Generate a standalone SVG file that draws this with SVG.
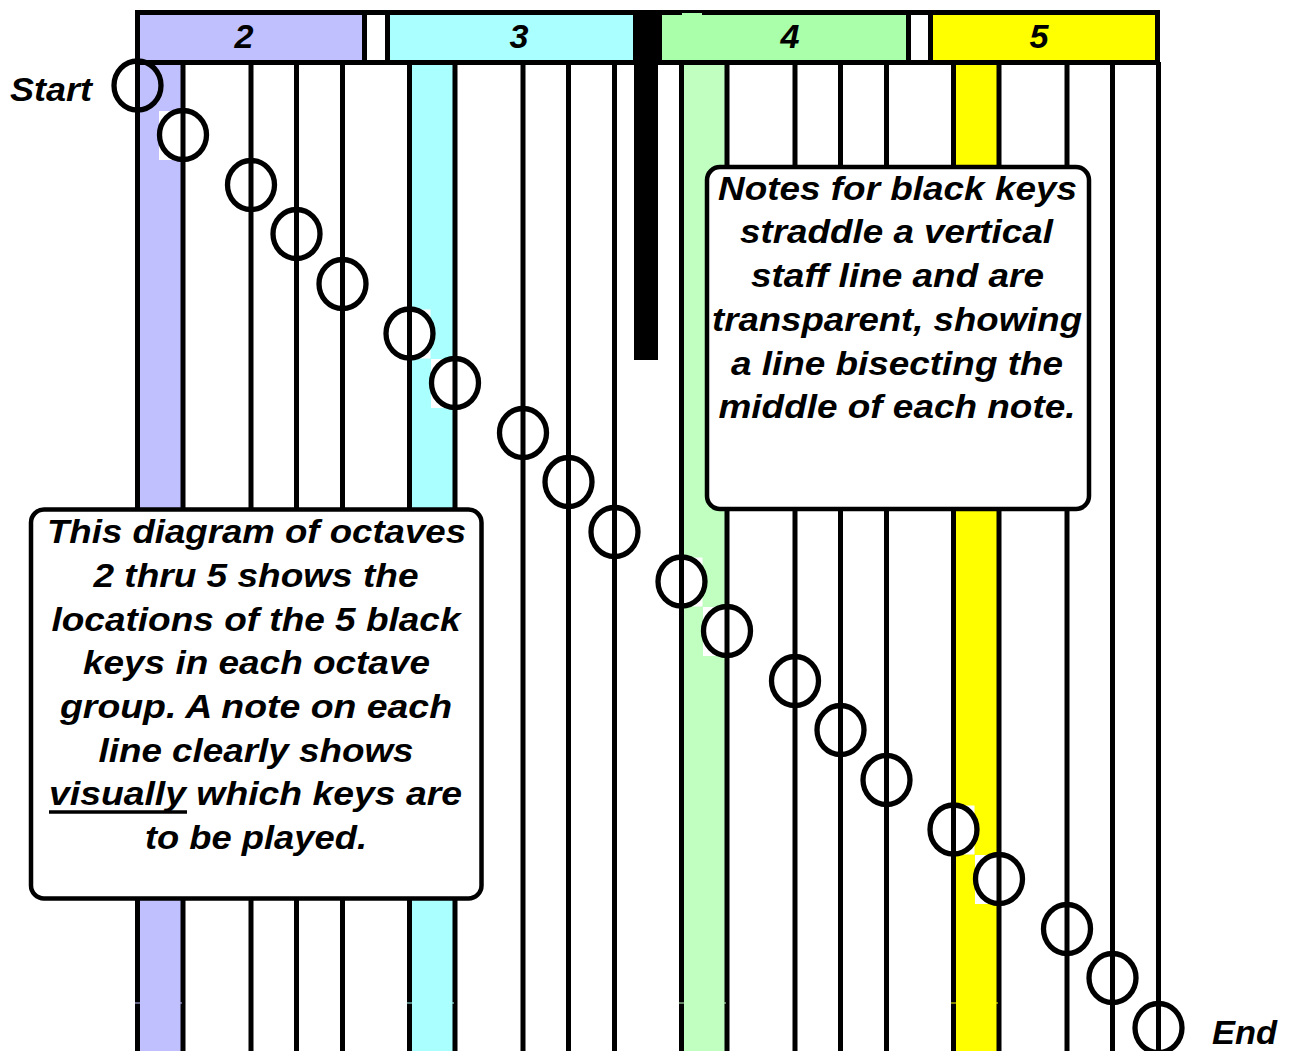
<svg xmlns="http://www.w3.org/2000/svg" width="1289" height="1051" viewBox="0 0 1289 1051">
<style>
.t{font-family:"Liberation Sans",Arial,sans-serif;font-weight:bold;font-style:italic;font-size:33px;fill:#000}
.m{text-anchor:middle}
.sl{stroke:#000;stroke-width:5;fill:none}
.nb{fill:#fff}
.note{fill:none;stroke:#000;stroke-width:5.3}
.box{fill:#fff;stroke:#000;stroke-width:4.5}
</style>
<rect width="1289" height="1051" fill="#fff"/>
<g id="bands">
<rect x="137.5" y="60" width="45.5" height="991" fill="#C0C0FF"/>
<rect x="409.5" y="60" width="45.5" height="991" fill="#AAFFFF"/>
<rect x="681.5" y="60" width="45.5" height="991" fill="#C0FFC0"/>
<rect x="953.5" y="60" width="45.5" height="991" fill="#FFFF00"/>
</g>
<g id="header">
<rect x="135" y="10" width="1025" height="55" fill="#000"/>
<rect x="140" y="15" width="222" height="45" fill="#C0C0FF"/>
<rect x="367" y="15" width="18" height="45" fill="#fff"/>
<rect x="390" y="15" width="243" height="45" fill="#AAFFFF"/>
<rect x="662" y="15" width="244" height="45" fill="#AAFFAA"/>
<rect x="682" y="13" width="20" height="2" fill="#AAFFAA"/>
<rect x="911" y="15" width="17" height="45" fill="#fff"/>
<rect x="933" y="15" width="222" height="45" fill="#FFFF00"/>
<text class="t m" x="244" y="48" textLength="19" lengthAdjust="spacingAndGlyphs">2</text>
<text class="t m" x="519" y="48" textLength="19" lengthAdjust="spacingAndGlyphs">3</text>
<text class="t m" x="790" y="48" textLength="19" lengthAdjust="spacingAndGlyphs">4</text>
<text class="t m" x="1039" y="48" textLength="19" lengthAdjust="spacingAndGlyphs">5</text>
</g>
<g id="note-backgrounds" class="nb">
<rect x="159" y="111" width="45" height="49"/>
<rect x="227" y="161" width="45" height="49"/>
<rect x="272.5" y="210" width="45" height="49"/>
<rect x="318.5" y="260" width="45" height="49"/>
<rect x="385.5" y="309.5" width="45" height="49"/>
<rect x="431" y="359" width="45" height="49"/>
<rect x="499" y="409" width="45" height="49"/>
<rect x="544.5" y="458" width="45" height="49"/>
<rect x="590.5" y="508" width="45" height="49"/>
<rect x="657.5" y="557.5" width="45" height="49"/>
<rect x="703" y="607" width="45" height="49"/>
<rect x="771" y="657" width="45" height="49"/>
<rect x="816.5" y="706" width="45" height="49"/>
<rect x="862.5" y="756" width="45" height="49"/>
<rect x="929.5" y="805.5" width="45" height="49"/>
<rect x="975" y="855" width="45" height="49"/>
<rect x="1043" y="905" width="45" height="49"/>
<rect x="1088.5" y="954" width="45" height="49"/>
<rect x="1134.5" y="1004" width="45" height="49"/>
</g>
<g id="staff-lines" class="sl">
<line x1="137.5" y1="62" x2="137.5" y2="1051"/>
<line x1="183" y1="62" x2="183" y2="1051"/>
<line x1="251" y1="62" x2="251" y2="1051"/>
<line x1="296.5" y1="62" x2="296.5" y2="1051"/>
<line x1="342.5" y1="62" x2="342.5" y2="1051"/>
<line x1="409.5" y1="62" x2="409.5" y2="1051"/>
<line x1="455" y1="62" x2="455" y2="1051"/>
<line x1="523" y1="62" x2="523" y2="1051"/>
<line x1="568.5" y1="62" x2="568.5" y2="1051"/>
<line x1="614.5" y1="62" x2="614.5" y2="1051"/>
<line x1="681.5" y1="62" x2="681.5" y2="1051"/>
<line x1="727" y1="62" x2="727" y2="1051"/>
<line x1="795" y1="62" x2="795" y2="1051"/>
<line x1="840.5" y1="62" x2="840.5" y2="1051"/>
<line x1="886.5" y1="62" x2="886.5" y2="1051"/>
<line x1="953.5" y1="62" x2="953.5" y2="1051"/>
<line x1="999" y1="62" x2="999" y2="1051"/>
<line x1="1067" y1="62" x2="1067" y2="1051"/>
<line x1="1112.5" y1="62" x2="1112.5" y2="1051"/>
<line x1="1158.5" y1="62" x2="1158.5" y2="1051"/>
</g>
<rect id="black-bar" x="634" y="60" width="24" height="300" fill="#000"/>
<g id="seams">
<rect x="135" y="1002.5" width="47" height="1" fill="#C0C0FF"/>
<rect x="407" y="1002.5" width="47" height="1" fill="#AAFFFF"/>
<rect x="679" y="1002.5" width="47" height="1" fill="#C0FFC0"/>
<rect x="951" y="1002.5" width="47" height="1" fill="#FFFF00"/>
</g>
<g id="notes" class="note">
<g id="note-1"><ellipse cx="137.5" cy="85.5" rx="23.5" ry="24.5"/></g>
<g id="note-2"><ellipse cx="183" cy="135" rx="23.5" ry="24.5"/></g>
<g id="note-3"><ellipse cx="251" cy="185" rx="23.5" ry="24.5"/></g>
<g id="note-4"><ellipse cx="296.5" cy="234" rx="23.5" ry="24.5"/></g>
<g id="note-5"><ellipse cx="342.5" cy="284" rx="23.5" ry="24.5"/></g>
<g id="note-6"><ellipse cx="409.5" cy="333.5" rx="23.5" ry="24.5"/></g>
<g id="note-7"><ellipse cx="455" cy="383" rx="23.5" ry="24.5"/></g>
<g id="note-8"><ellipse cx="523" cy="433" rx="23.5" ry="24.5"/></g>
<g id="note-9"><ellipse cx="568.5" cy="482" rx="23.5" ry="24.5"/></g>
<g id="note-10"><ellipse cx="614.5" cy="532" rx="23.5" ry="24.5"/></g>
<g id="note-11"><ellipse cx="681.5" cy="581.5" rx="23.5" ry="24.5"/></g>
<g id="note-12"><ellipse cx="727" cy="631" rx="23.5" ry="24.5"/></g>
<g id="note-13"><ellipse cx="795" cy="681" rx="23.5" ry="24.5"/></g>
<g id="note-14"><ellipse cx="840.5" cy="730" rx="23.5" ry="24.5"/></g>
<g id="note-15"><ellipse cx="886.5" cy="780" rx="23.5" ry="24.5"/></g>
<g id="note-16"><ellipse cx="953.5" cy="829.5" rx="23.5" ry="24.5"/></g>
<g id="note-17"><ellipse cx="999" cy="879" rx="23.5" ry="24.5"/></g>
<g id="note-18"><ellipse cx="1067" cy="929" rx="23.5" ry="24.5"/></g>
<g id="note-19"><ellipse cx="1112.5" cy="978" rx="23.5" ry="24.5"/></g>
<g id="note-20"><ellipse cx="1158.5" cy="1028" rx="23.5" ry="24.5"/></g>
</g>
<g id="box-octaves">
<rect class="box" x="31" y="509.5" width="450.5" height="389" rx="13"/>
<text class="t m" x="256.5" y="543" textLength="419" lengthAdjust="spacingAndGlyphs">This diagram of octaves</text>
<text class="t m" x="256" y="586.5" textLength="325" lengthAdjust="spacingAndGlyphs">2 thru 5 shows the</text>
<text class="t m" x="256" y="630.5" textLength="409" lengthAdjust="spacingAndGlyphs">locations of the 5 black</text>
<text class="t m" x="256.5" y="674" textLength="347" lengthAdjust="spacingAndGlyphs">keys in each octave</text>
<text class="t m" x="256" y="718" textLength="392" lengthAdjust="spacingAndGlyphs">group. A note on each</text>
<text class="t m" x="256" y="761.5" textLength="315" lengthAdjust="spacingAndGlyphs">line clearly shows</text>
<text class="t m" x="255.5" y="805" textLength="413" lengthAdjust="spacingAndGlyphs">visually which keys are</text>
<line x1="49" y1="812" x2="187" y2="812" stroke="#000" stroke-width="3.5"/>
<text class="t m" x="256" y="848.5" textLength="222" lengthAdjust="spacingAndGlyphs">to be played.</text>
</g>
<g id="box-black-keys">
<rect class="box" x="707" y="167" width="382" height="342" rx="13"/>
<text class="t m" x="897.5" y="200" textLength="359" lengthAdjust="spacingAndGlyphs">Notes for black keys</text>
<text class="t m" x="896.5" y="243" textLength="313" lengthAdjust="spacingAndGlyphs">straddle a vertical</text>
<text class="t m" x="897.5" y="287" textLength="293" lengthAdjust="spacingAndGlyphs">staff line and are</text>
<text class="t m" x="897" y="331" textLength="370" lengthAdjust="spacingAndGlyphs">transparent, showing</text>
<text class="t m" x="897" y="374.5" textLength="332" lengthAdjust="spacingAndGlyphs">a line bisecting the</text>
<text class="t m" x="897" y="418" textLength="357" lengthAdjust="spacingAndGlyphs">middle of each note.</text>
</g>
<g id="labels">
<text class="t" x="10" y="101" textLength="82" lengthAdjust="spacingAndGlyphs">Start</text>
<text class="t" x="1212" y="1044" textLength="65" lengthAdjust="spacingAndGlyphs">End</text>
</g>
</svg>
